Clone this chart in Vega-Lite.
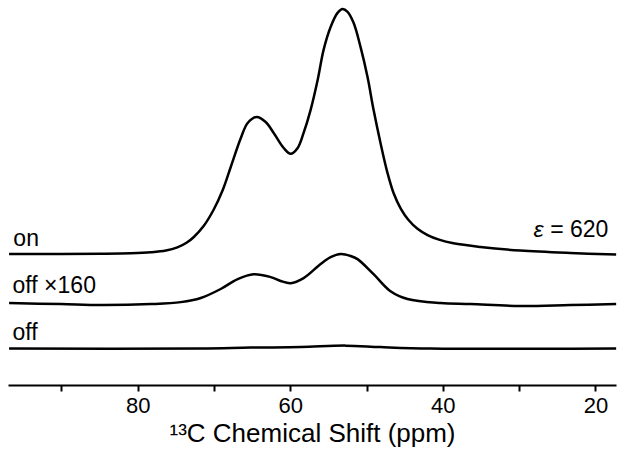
{
  "$schema": "https://vega.github.io/schema/vega-lite/v6.json",
  "autosize": {"type": "none"},
  "width": 608,
  "height": 385,
  "padding": {"left": 8, "top": 0, "right": 2, "bottom": 74},
  "background": "white",
  "config": {"view": {"stroke": null}, "font": "Liberation Sans"},
  "datasets": {
    "spectra": [
      {"spectrum": "on", "ppm": 96.86, "intensity": 0},
      {"spectrum": "on", "ppm": 90.05, "intensity": 0},
      {"spectrum": "on", "ppm": 84.82, "intensity": 0.1},
      {"spectrum": "on", "ppm": 80.89, "intensity": 0.3},
      {"spectrum": "on", "ppm": 78.27, "intensity": 0.7},
      {"spectrum": "on", "ppm": 76.3, "intensity": 1.4},
      {"spectrum": "on", "ppm": 74.8, "intensity": 2.7},
      {"spectrum": "on", "ppm": 73.6, "intensity": 4.6},
      {"spectrum": "on", "ppm": 72.64, "intensity": 7.0},
      {"spectrum": "on", "ppm": 71.33, "intensity": 11.6},
      {"spectrum": "on", "ppm": 70.03, "intensity": 18.3},
      {"spectrum": "on", "ppm": 68.85, "intensity": 26.3},
      {"spectrum": "on", "ppm": 67.8, "intensity": 35.8},
      {"spectrum": "on", "ppm": 66.49, "intensity": 47.6},
      {"spectrum": "on", "ppm": 65.58, "intensity": 53.9},
      {"spectrum": "on", "ppm": 64.4, "intensity": 56.4},
      {"spectrum": "on", "ppm": 63.22, "intensity": 54.3},
      {"spectrum": "on", "ppm": 62.17, "intensity": 49.8},
      {"spectrum": "on", "ppm": 60.86, "intensity": 43.6},
      {"spectrum": "on", "ppm": 59.95, "intensity": 41.2},
      {"spectrum": "on", "ppm": 59.03, "intensity": 43.6},
      {"spectrum": "on", "ppm": 58.25, "intensity": 49.8},
      {"spectrum": "on", "ppm": 57.33, "intensity": 59.3},
      {"spectrum": "on", "ppm": 56.41, "intensity": 71.6},
      {"spectrum": "on", "ppm": 55.63, "intensity": 84.0},
      {"spectrum": "on", "ppm": 54.71, "intensity": 93.4},
      {"spectrum": "on", "ppm": 53.8, "intensity": 99.2},
      {"spectrum": "on", "ppm": 53.14, "intensity": 100.8},
      {"spectrum": "on", "ppm": 52.49, "intensity": 99.6},
      {"spectrum": "on", "ppm": 51.7, "intensity": 95.1},
      {"spectrum": "on", "ppm": 50.79, "intensity": 85.2},
      {"spectrum": "on", "ppm": 49.87, "intensity": 72.8},
      {"spectrum": "on", "ppm": 49.08, "intensity": 59.3},
      {"spectrum": "on", "ppm": 48.17, "intensity": 45.7},
      {"spectrum": "on", "ppm": 47.25, "intensity": 33.3},
      {"spectrum": "on", "ppm": 46.46, "intensity": 25.1},
      {"spectrum": "on", "ppm": 45.5, "intensity": 18.6},
      {"spectrum": "on", "ppm": 44.5, "intensity": 14.0},
      {"spectrum": "on", "ppm": 43.32, "intensity": 10.4},
      {"spectrum": "on", "ppm": 42.0, "intensity": 7.8},
      {"spectrum": "on", "ppm": 40.5, "intensity": 5.9},
      {"spectrum": "on", "ppm": 38.61, "intensity": 4.4},
      {"spectrum": "on", "ppm": 35.08, "intensity": 2.9},
      {"spectrum": "on", "ppm": 29.84, "intensity": 1.4},
      {"spectrum": "on", "ppm": 23.3, "intensity": 0.4},
      {"spectrum": "on", "ppm": 17.28, "intensity": -0.2},
      {"spectrum": "off ×160", "ppm": 96.86, "intensity": 0.4},
      {"spectrum": "off ×160", "ppm": 90.05, "intensity": 0},
      {"spectrum": "off ×160", "ppm": 84.82, "intensity": -0.4},
      {"spectrum": "off ×160", "ppm": 78.27, "intensity": 0},
      {"spectrum": "off ×160", "ppm": 74.35, "intensity": 0.8},
      {"spectrum": "off ×160", "ppm": 71.73, "intensity": 2.5},
      {"spectrum": "off ×160", "ppm": 69.12, "intensity": 6.2},
      {"spectrum": "off ×160", "ppm": 66.89, "intensity": 10.3},
      {"spectrum": "off ×160", "ppm": 64.8, "intensity": 12.3},
      {"spectrum": "off ×160", "ppm": 62.57, "intensity": 11.1},
      {"spectrum": "off ×160", "ppm": 61.26, "intensity": 9.5},
      {"spectrum": "off ×160", "ppm": 59.95, "intensity": 8.6},
      {"spectrum": "off ×160", "ppm": 58.25, "intensity": 10.7},
      {"spectrum": "off ×160", "ppm": 56.02, "intensity": 16.5},
      {"spectrum": "off ×160", "ppm": 54.71, "intensity": 19.3},
      {"spectrum": "off ×160", "ppm": 53.4, "intensity": 20.6},
      {"spectrum": "off ×160", "ppm": 52.09, "intensity": 19.8},
      {"spectrum": "off ×160", "ppm": 51.18, "intensity": 18.5},
      {"spectrum": "off ×160", "ppm": 49.08, "intensity": 12.3},
      {"spectrum": "off ×160", "ppm": 46.86, "intensity": 5.3},
      {"spectrum": "off ×160", "ppm": 44.63, "intensity": 2.1},
      {"spectrum": "off ×160", "ppm": 40.31, "intensity": 0.4},
      {"spectrum": "off ×160", "ppm": 36.38, "intensity": 0},
      {"spectrum": "off ×160", "ppm": 29.84, "intensity": -0.8},
      {"spectrum": "off ×160", "ppm": 23.3, "intensity": -0.4},
      {"spectrum": "off ×160", "ppm": 17.28, "intensity": 0},
      {"spectrum": "off", "ppm": 96.86, "intensity": 0},
      {"spectrum": "off", "ppm": 71.73, "intensity": 0},
      {"spectrum": "off", "ppm": 65.18, "intensity": 0.4},
      {"spectrum": "off", "ppm": 58.64, "intensity": 0.6},
      {"spectrum": "off", "ppm": 52.75, "intensity": 1.2},
      {"spectrum": "off", "ppm": 48.17, "intensity": 0.6},
      {"spectrum": "off", "ppm": 41.62, "intensity": 0},
      {"spectrum": "off", "ppm": 17.28, "intensity": 0}
    ],
    "leftLabels": [
      {"label": "on", "ppm": 96.3, "level": 57.2},
      {"label": "off ×160", "ppm": 96.4, "level": 37.9},
      {"label": "off", "ppm": 96.4, "level": 18.5}
    ],
    "rightLabels": [
      {"label": "= 620", "ppm": 18.3, "level": 60.9}
    ],
    "italic": [
      {"label": "ε", "ppm": 26.8, "level": 60.9}
    ]
  },
  "layer": [
    {
      "data": {"name": "spectra"},
      "transform": [
        {"calculate": "datum.intensity + (datum.spectrum === 'on' ? 53.9 : (datum.spectrum === 'off ×160' ? 33.3 : 15.0))", "as": "shifted"}
      ],
      "mark": {"type": "line", "interpolate": "catmull-rom", "color": "black", "strokeWidth": 2.5},
      "encoding": {
        "x": {
          "field": "ppm", "type": "quantitative",
          "scale": {"domain": [17.3, 97], "reverse": true, "nice": false, "zero": false},
          "axis": {
            "values": [90, 80, 70, 60, 50, 40, 30, 20],
            "labelExpr": "datum.value % 20 === 0 ? datum.label : ''",
            "grid": false,
            "domainColor": "black", "domainWidth": 2,
            "tickColor": "black", "tickWidth": 2, "tickSize": 6,
            "labelColor": "black", "labelFontSize": 22, "labelPadding": 4,
            "labelFont": "Liberation Sans",
            "title": "¹³C Chemical Shift (ppm)",
            "titleFont": "Liberation Sans", "titleFontSize": 26, "titleFontWeight": "normal",
            "titleColor": "black", "titlePadding": 4
          }
        },
        "y": {
          "field": "shifted", "type": "quantitative",
          "scale": {"domain": [0, 158.4], "nice": false, "zero": false},
          "axis": null
        },
        "detail": {"field": "spectrum"}
      }
    },
    {
      "data": {"name": "leftLabels"},
      "mark": {"type": "text", "font": "Liberation Sans", "fontSize": 23, "color": "black", "baseline": "alphabetic", "align": "left"},
      "encoding": {
        "x": {"field": "ppm", "type": "quantitative"},
        "y": {"field": "level", "type": "quantitative"},
        "text": {"field": "label"}
      }
    },
    {
      "data": {"name": "rightLabels"},
      "mark": {"type": "text", "font": "Liberation Sans", "fontSize": 23, "color": "black", "baseline": "alphabetic", "align": "right"},
      "encoding": {
        "x": {"field": "ppm", "type": "quantitative"},
        "y": {"field": "level", "type": "quantitative"},
        "text": {"field": "label"}
      }
    },
    {
      "data": {"name": "italic"},
      "mark": {"type": "text", "font": "Liberation Sans", "fontSize": 23, "fontStyle": "italic", "color": "black", "baseline": "alphabetic", "align": "right"},
      "encoding": {
        "x": {"field": "ppm", "type": "quantitative"},
        "y": {"field": "level", "type": "quantitative"},
        "text": {"field": "label"}
      }
    }
  ]
}
